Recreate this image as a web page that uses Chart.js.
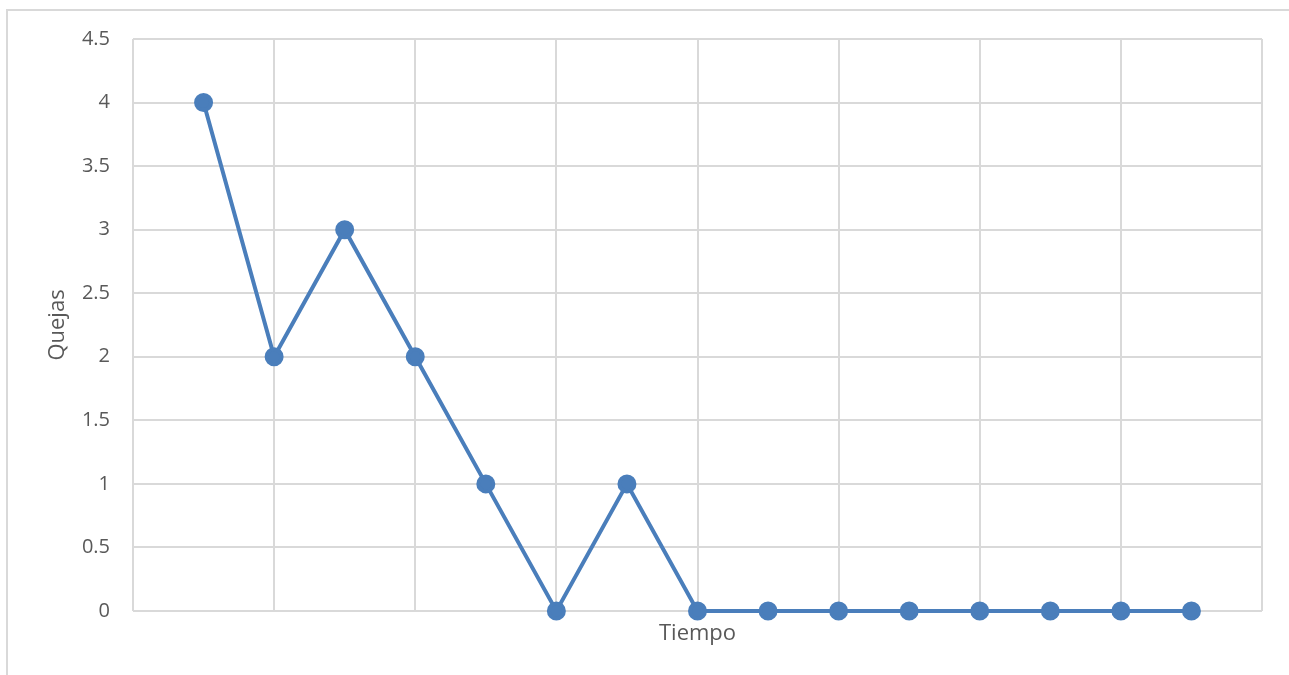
<!DOCTYPE html>
<html>
<head>
<meta charset="utf-8">
<script src="https://cdn.jsdelivr.net/npm/chart.js@4/dist/chart.umd.min.js"></script>
<style>
    html, body { margin: 0; padding: 0; background: #fff; }
    #quejas-chart { display: block; }
</style>
</head>
<body>
<canvas id="quejas-chart" width="1289" height="675"></canvas>
<script>
// periodos de tiempo (eje x) y quejas registradas en cada uno
const tiempo = [1, 2, 3, 4, 5, 6, 7, 8, 9, 10, 11, 12, 13, 14, 15];
const quejas = [4, 2, 3, 2, 1, 0, 1, 0, 0, 0, 0, 0, 0, 0, 0];

// rango de los ejes
const xMin = 0, xMax = 16, xStep = 2;
const yMin = 0, yMax = 4.5, yStep = 0.5;

const azul = "#4A7EBB";
const gris = "#D9D9D9";
const texto = "#595959";

// marco gris alrededor del grafico
const marcoGrafico = {
    id: "marcoGrafico",
    beforeDraw(chart) {
        const ctx = chart.ctx;
        ctx.save();
        ctx.strokeStyle = gris;
        ctx.lineWidth = 2;
        ctx.strokeRect(7, 10, chart.width + 20, chart.height + 20);
        ctx.restore();
    },
};

function initChart() {
    const ctx = document.getElementById("quejas-chart");
    new Chart(ctx, {
        type: "line",
        data: {
            datasets: [
                {
                    label: "Quejas",
                    data: tiempo.map((t, i) => ({ x: t, y: quejas[i] })),
                    borderColor: azul,
                    backgroundColor: azul,
                    borderWidth: 4,
                    pointRadius: 7.5,
                    pointHoverRadius: 7.5,
                    pointBackgroundColor: azul,
                    pointBorderColor: azul,
                    tension: 0,
                    fill: false,
                    clip: false,
                },
            ],
        },
        options: {
            responsive: false,
            animation: false,
            devicePixelRatio: 1,
            layout: {
                padding: { top: 39, right: 27, left: 0, bottom: 0 },
            },
            plugins: {
                legend: { display: false },
                tooltip: { enabled: false },
            },
            scales: {
                x: {
                    type: "linear",
                    min: xMin,
                    max: xMax,
                    border: { display: false },
                    grid: { color: gris, lineWidth: 2, drawTicks: false },
                    ticks: { display: false, stepSize: xStep },
                    title: {
                        display: true,
                        text: "Tiempo",
                        color: texto,
                        font: { family: "Open Sans", size: 22 },
                        padding: { top: 0, bottom: 28 },
                    },
                    afterFit: (scale) => {
                        scale.height = 64;
                    },
                },
                y: {
                    min: yMin,
                    max: yMax,
                    border: { display: false },
                    grid: { color: gris, lineWidth: 2, drawTicks: false },
                    ticks: {
                        stepSize: yStep,
                        padding: 23,
                        color: texto,
                        font: { family: "Open Sans", size: 20 },
                        callback: (value) => String(value),
                    },
                    title: {
                        display: true,
                        text: "Quejas",
                        color: texto,
                        font: { family: "Open Sans", size: 22 },
                        padding: { top: 45, bottom: 0 },
                    },
                    afterFit: (scale) => {
                        scale.width = 133;
                    },
                },
            },
        },
        plugins: [marcoGrafico],
    });
}

document.addEventListener("DOMContentLoaded", initChart);
</script>
</body>
</html>
